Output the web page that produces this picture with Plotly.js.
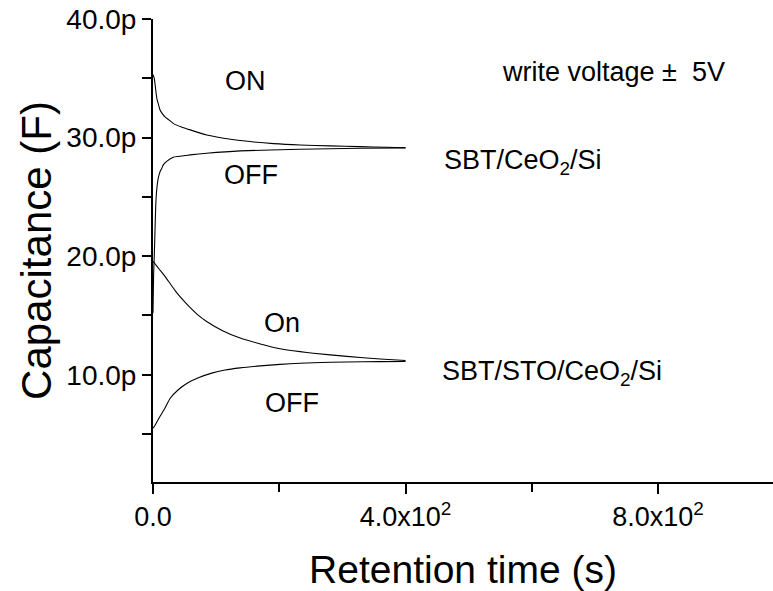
<!DOCTYPE html>
<html>
<head>
<meta charset="utf-8">
<script src="https://cdn.plot.ly/plotly-3.0.1.min.js"></script>
<style>html,body{margin:0;padding:0;background:#fff;}#chart{width:773px;height:591px;}</style>
</head>
<body>
<div id="chart"></div>
<script>
// SBT/CeO2/Si, ON state (time s, capacitance pF)
const tCeOn  = [0, 2, 3.5, 5, 6.5, 8.4, 11, 15, 19, 25, 32, 45, 59, 85, 112, 138, 191, 233, 280, 328, 370, 400];
const cCeOn  = [35.3, 35.0, 34.4, 33.7, 33.2, 32.85, 32.35, 32.0, 31.75, 31.5, 31.2, 30.9, 30.65, 30.22, 29.95, 29.75, 29.49, 29.37, 29.3, 29.24, 29.18, 29.15];
// SBT/CeO2/Si, OFF state
const tCeOff = [0, 0.5, 1, 2, 3, 4.3, 5.9, 8.4, 11, 13.8, 16.3, 21.7, 32, 59, 85, 138, 233, 328, 400];
const cCeOff = [15.2, 17.0, 18.5, 20.0, 21.8, 24.2, 25.6, 26.6, 27.1, 27.4, 27.7, 28.0, 28.35, 28.54, 28.68, 28.88, 29.02, 29.1, 29.13];
// SBT/STO/CeO2/Si, On state
const tStoOn  = [0, 2, 10, 19, 35, 51, 70, 85, 111, 138, 170, 201, 233, 254, 307, 360, 400];
const cStoOn  = [19.6, 19.45, 18.9, 18.3, 17.1, 16.1, 15.1, 14.5, 13.7, 13.1, 12.6, 12.2, 11.95, 11.82, 11.55, 11.33, 11.2];
// SBT/STO/CeO2/Si, OFF state
const tStoOff = [0, 2, 11, 19, 27, 40, 56, 72, 93, 114, 138, 170, 201, 233, 254, 307, 360, 400];
const cStoOff = [5.5, 5.64, 6.49, 7.2, 8.0, 8.74, 9.35, 9.75, 10.14, 10.4, 10.58, 10.75, 10.88, 10.97, 11.02, 11.08, 11.11, 11.12];

const xTickVals = [0, 400, 800];
const xTickText = ["0.0", "4.0x10<sup>2</sup>", "8.0x10<sup>2</sup>"];
const yTickVals = [10, 20, 30, 40];
const yTickText = ["10.0p", "20.0p", "30.0p", "40.0p"];

const FONT = "Liberation Sans, Arial, sans-serif";
const lineStyle = {color: "#000", width: 1.1, shape: "spline", smoothing: 0.5};

const traces = [
  {x: tCeOn, y: cCeOn},
  {x: tCeOff, y: cCeOff},
  {x: tStoOn, y: cStoOn},
  {x: tStoOff, y: cStoOff}
].map(d => Object.assign({type: "scatter", mode: "lines", line: lineStyle, hoverinfo: "skip", cliponaxis: true}, d));

const ann = (x, y, text, size, xanchor) => ({
  x: x, y: y, xref: "x", yref: "y", text: text, showarrow: false,
  xanchor: xanchor || "center", yanchor: "middle",
  font: {family: FONT, size: size, color: "#000"}
});

const layout = {
  width: 773, height: 591,
  margin: {l: 153, r: 0, t: 19, b: 109, pad: 0},
  paper_bgcolor: "#fff", plot_bgcolor: "#fff",
  showlegend: false,
  font: {family: FONT, color: "#000"},
  xaxis: {
    range: [0, 982], showgrid: false, zeroline: false,
    showline: true, linecolor: "#000", linewidth: 2,
    ticks: "outside", ticklen: 10, tickwidth: 2, tickcolor: "#000",
    tickmode: "array", tickvals: xTickVals, ticktext: xTickText,
    tickfont: {family: FONT, size: 27, color: "#000"},
    minor: {dtick: 200, tick0: 0, ticks: "outside", ticklen: 8, tickwidth: 2, tickcolor: "#000", showgrid: false},
    title: {text: "Retention time (s)", font: {family: FONT, size: 39, color: "#000"}, standoff: 28},
    automargin: false
  },
  yaxis: {
    range: [0.96, 40], showgrid: false, zeroline: false,
    showline: true, linecolor: "#000", linewidth: 2,
    ticks: "outside", ticklen: 9, tickwidth: 2, tickcolor: "#000",
    tickmode: "array", tickvals: yTickVals, ticktext: yTickText,
    tickfont: {family: FONT, size: 28, color: "#000"},
    minor: {dtick: 5, tick0: 0, ticks: "outside", ticklen: 9, tickwidth: 2, tickcolor: "#000", showgrid: false},
    title: {text: "Capacitance (F)", font: {family: FONT, size: 42, color: "#000"}, standoff: 2},
    automargin: false
  },
  annotations: [
    ann(146, 34.75, "ON", 27),
    ann(156, 26.85, "OFF", 27),
    ann(204, 14.4, "On", 27),
    ann(220, 7.6, "OFF", 27),
    ann(729, 35.5, "write voltage \u00b1  5V", 27),
    ann(457, 27.95, "SBT/CeO<sub>2</sub>/Si", 27, "left"),
    ann(455, 10.15, "SBT/STO/CeO<sub>2</sub>/Si", 27, "left")
  ]
};

Plotly.newPlot("chart", traces, layout, {staticPlot: true, displayModeBar: false});
</script>
</body>
</html>
